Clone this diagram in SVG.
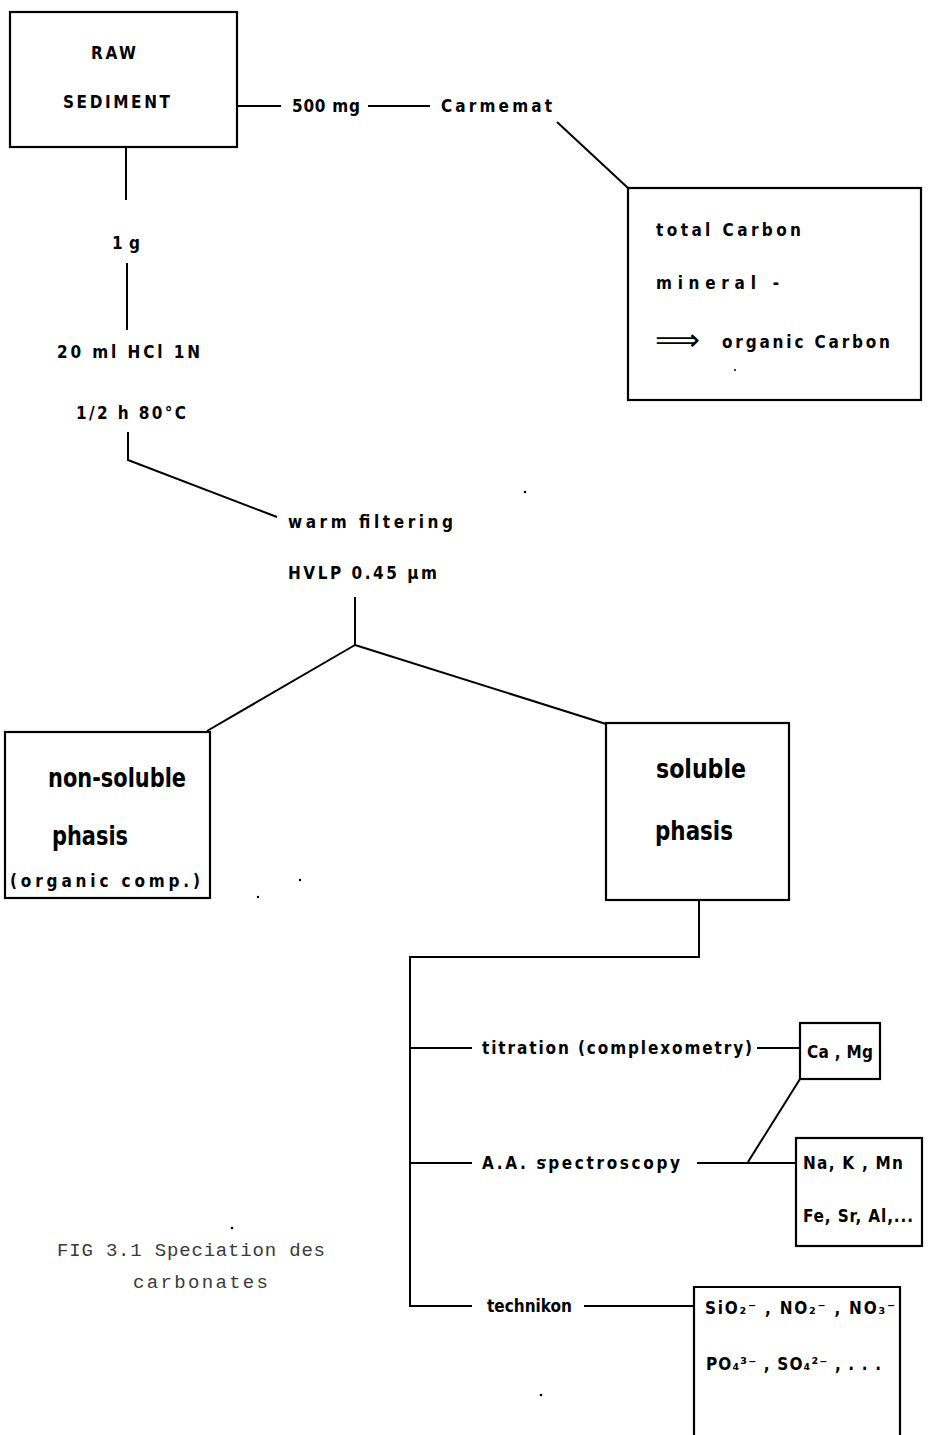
<svg xmlns="http://www.w3.org/2000/svg" width="949" height="1435" viewBox="0 0 949 1435" xml:space="preserve">
<style>
.box{fill:none;stroke:#000;stroke-width:2.2}
.ln{fill:none;stroke:#000;stroke-width:2}
.t{font-family:"DejaVu Sans Condensed","DejaVu Sans",sans-serif;font-weight:bold;font-size:17px;fill:#000}
.big{font-family:"DejaVu Sans Condensed","DejaVu Sans",sans-serif;font-weight:bold;font-size:27px;fill:#000}
.cap{font-family:"Liberation Mono","DejaVu Sans Mono",monospace;font-size:19px;fill:#3a3a3a}
</style>
<rect width="949" height="1435" fill="#fff"/>
<g id="connectors">
<line class="ln" x1="237" y1="106" x2="281" y2="106"/>
<line class="ln" x1="368" y1="106" x2="430" y2="106"/>
<line class="ln" x1="557" y1="122" x2="628" y2="188"/>
<line class="ln" x1="126" y1="147" x2="126" y2="200"/>
<line class="ln" x1="127" y1="263" x2="127" y2="330"/>
<polyline class="ln" points="128,432 128,460 277,517"/>
<line class="ln" x1="355" y1="597" x2="355" y2="645"/>
<line class="ln" x1="355" y1="645" x2="207" y2="731"/>
<line class="ln" x1="355" y1="645" x2="606" y2="724"/>
<polyline class="ln" points="699,900 699,957 410,957 410,1306 472,1306"/>
<line class="ln" x1="410" y1="1048" x2="472" y2="1048"/>
<line class="ln" x1="410" y1="1163" x2="472" y2="1163"/>
<line class="ln" x1="757" y1="1048" x2="800" y2="1048"/>
<line class="ln" x1="697" y1="1163" x2="796" y2="1163"/>
<line class="ln" x1="748" y1="1162" x2="800" y2="1079"/>
<line class="ln" x1="584" y1="1306" x2="694" y2="1306"/>
</g>
<g id="raw-sediment">
<rect class="box" x="10" y="12" width="227" height="135"/>
<text class="t" x="91" y="59" textLength="45" lengthAdjust="spacing">RAW</text>
<text class="t" x="63" y="108" textLength="107" lengthAdjust="spacing">SEDIMENT</text>
</g>
<g id="label-500mg">
<text class="t" x="292" y="112" textLength="68" lengthAdjust="spacing">500 mg</text>
</g>
<g id="carmemat">
<text class="t" x="441" y="112" textLength="111" lengthAdjust="spacing">Carmemat</text>
</g>
<g id="carbon-box">
<rect class="box" x="628" y="188" width="293" height="212"/>
<text class="t" x="656" y="236" textLength="145" lengthAdjust="spacing">total Carbon</text>
<text class="t" x="656" y="289" textLength="123" lengthAdjust="spacing">mineral  -</text>
<text x="655" y="350" font-size="30" textLength="45" lengthAdjust="spacingAndGlyphs" style="font-family:'DejaVu Sans',sans-serif">⟹</text>
<text class="t" x="722" y="348" textLength="168" lengthAdjust="spacing">organic Carbon</text>
</g>
<g id="label-1g">
<text class="t" x="112" y="249" textLength="28" lengthAdjust="spacing">1 g</text>
</g>
<g id="label-hcl">
<text class="t" x="57" y="358" textLength="143" lengthAdjust="spacing">20 ml   HCl 1N</text>
<text class="t" x="76" y="419" textLength="110" lengthAdjust="spacing">1/2 h   80°C</text>
</g>
<g id="filtering">
<text class="t" x="288" y="528" textLength="165" lengthAdjust="spacing">warm filtering</text>
<text class="t" x="288" y="579" textLength="149" lengthAdjust="spacing">HVLP 0.45 μm</text>
</g>
<g id="non-soluble">
<rect class="box" x="5" y="732" width="205" height="166"/>
<text class="big" x="48" y="787" textLength="138" lengthAdjust="spacingAndGlyphs">non-soluble</text>
<text class="big" x="52" y="845" textLength="76" lengthAdjust="spacingAndGlyphs">phasis</text>
<text class="t" x="10" y="887" textLength="190" lengthAdjust="spacing">(organic  comp.)</text>
</g>
<g id="soluble">
<rect class="box" x="606" y="723" width="183" height="177"/>
<text class="big" x="656" y="778" textLength="90" lengthAdjust="spacingAndGlyphs">soluble</text>
<text class="big" x="655" y="840" textLength="78" lengthAdjust="spacingAndGlyphs">phasis</text>
</g>
<g id="titration">
<text class="t" x="482" y="1054" textLength="270" lengthAdjust="spacing">titration (complexometry)</text>
</g>
<g id="ca-mg">
<rect class="box" x="800" y="1023" width="80" height="56"/>
<text class="t" x="807" y="1058" textLength="66" lengthAdjust="spacing">Ca , Mg</text>
</g>
<g id="aa-spectroscopy">
<text class="t" x="482" y="1169" textLength="198" lengthAdjust="spacing">A.A. spectroscopy</text>
</g>
<g id="na-k-mn">
<rect class="box" x="796" y="1138" width="126" height="108"/>
<text class="t" x="803" y="1169" textLength="100" lengthAdjust="spacing">Na, K , Mn</text>
<text class="t" x="803" y="1222" textLength="110" lengthAdjust="spacing">Fe, Sr, Al,...</text>
</g>
<g id="technikon">
<text class="t" x="487" y="1312" font-size="15" textLength="85" lengthAdjust="spacing">technikon</text>
</g>
<g id="anions">
<path class="box" d="M694,1440 V1287 H900 V1440"/>
<text class="t" x="705" y="1314" textLength="190" lengthAdjust="spacing">SiO₂⁻ , NO₂⁻ , NO₃⁻</text>
<text class="t" x="706" y="1370" textLength="175" lengthAdjust="spacing">PO₄³⁻ , SO₄²⁻ , . . .</text>
</g>
<g id="caption">
<text class="cap" x="57" y="1256" textLength="268" lengthAdjust="spacing">FIG 3.1 Speciation des</text>
<text class="cap" x="133" y="1288" textLength="135" lengthAdjust="spacing">carbonates</text>
</g>
<g id="specks" fill="#000">
<circle cx="232" cy="1228" r="1.3"/>
<circle cx="525" cy="492" r="1.3"/>
<circle cx="300" cy="880" r="1.2"/>
<circle cx="258" cy="897" r="1.2"/>
<circle cx="541" cy="1395" r="1.3"/>
<circle cx="735" cy="370" r="1"/>
<circle cx="545" cy="1160" r="1"/>
</g>
</svg>
